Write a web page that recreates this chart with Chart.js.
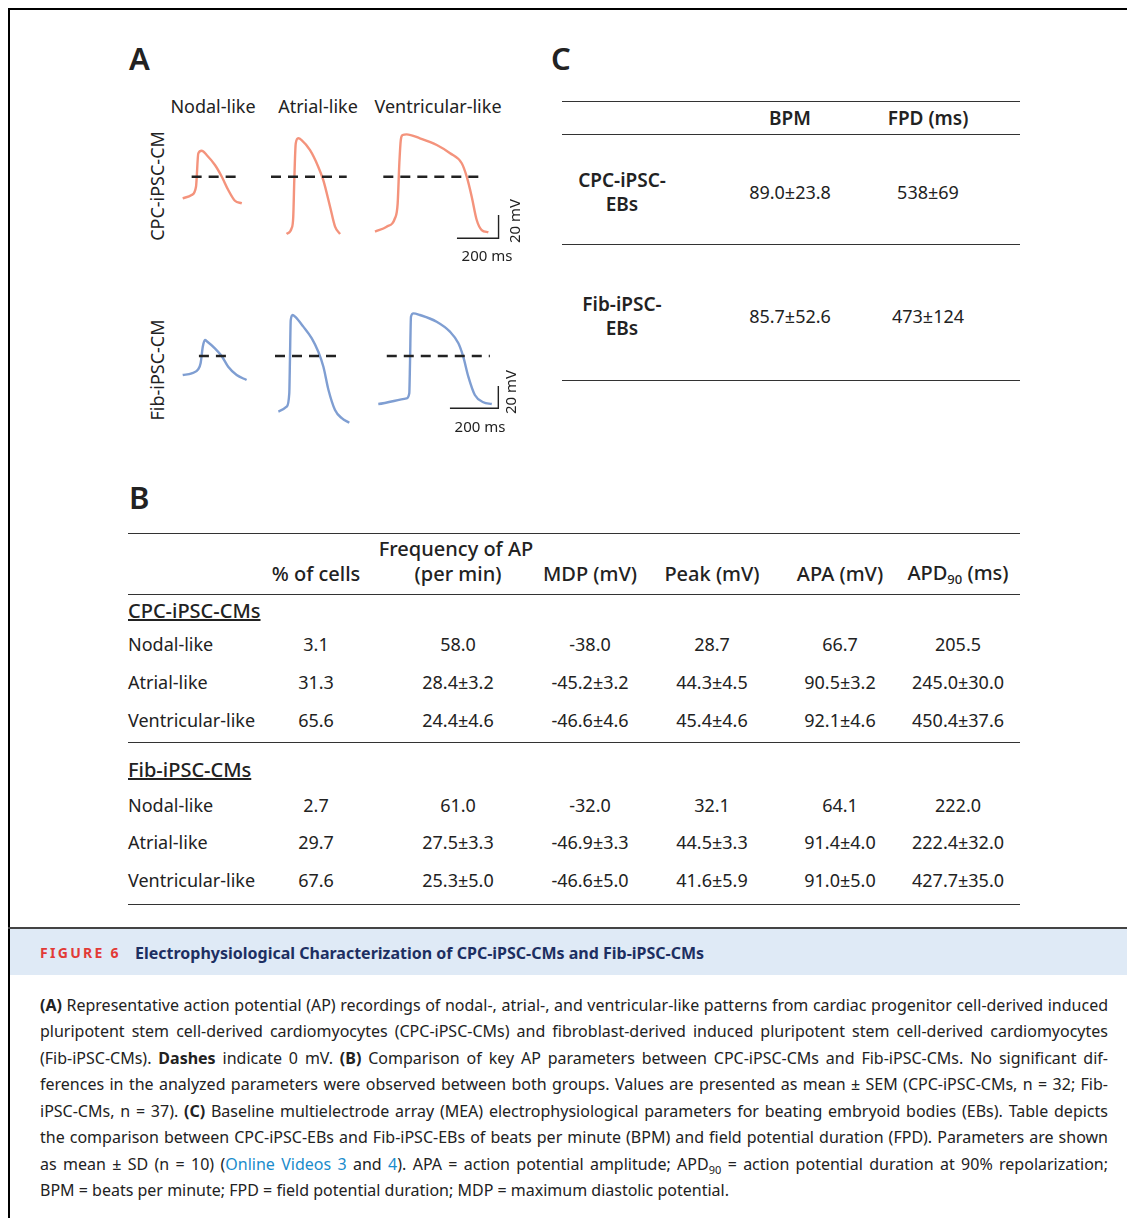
<!DOCTYPE html>
<html>
<head>
<meta charset="utf-8">
<script src="https://cdn.jsdelivr.net/npm/chart.js@4.4.1/dist/chart.umd.min.js"></script>
<style>
  body { margin: 0; width: 1127px; height: 1218px; overflow: hidden; background: #fff; position: relative; font-family: "Noto Sans", "Open Sans", sans-serif; color: #222; }
  .t { position: absolute; white-space: nowrap; }
  .rule { position: absolute; height: 0; border-top: 1.5px solid #333; }
  canvas { position: absolute; }
  .cap { position: absolute; left: 40px; width: 1068px; font-size: 16px; white-space: nowrap; text-align: justify; text-align-last: justify; color: #222; }
  .cap b { font-weight: 700; }
  .cap a { color: #1a8ccc; text-decoration: none; }
</style>
</head>
<body>
<div id="page"></div>
<script>
// ---- panel A: action potential traces (time in ms, voltage in mV) ----
var cpcNodalMs = [0, 43, 64, 75, 91, 115, 155, 188, 219, 251, 284];
var cpcNodalMv = [-18.5, -15.7, -8.6, 20, 22.3, 18.6, 10, 0, -11.4, -20.6, -22.8];
var cpcAtrialMs = [75, 99, 107, 112, 119, 131, 147, 187, 227, 251, 284, 308, 332];
var cpcAtrialMv = [-49.1, -44.2, -34.3, -2.8, 28.6, 32.9, 31.4, 22.9, 8.6, -2.8, -25.7, -42.8, -49.1];
var cpcVentMs = [0, 56, 96, 109, 117, 124, 133, 152, 216, 297, 361, 417, 441, 465, 489, 513, 545];
var cpcVentMv = [-47.1, -42.8, -35.6, -22.8, 11.5, 31.4, 35.7, 36.3, 32.9, 27.2, 20.1, 11.5, 0, -17.1, -37.1, -45.7, -47.6];

var fibNodalMs = [0, 37, 64, 74, 83, 92, 102, 133, 161, 188, 223, 264];
var fibNodalMv = [-17, -15.5, -11.9, -6.5, 8.3, 14.3, 12.8, 6.9, 0, -9.6, -17, -21.5];
var fibAtrialMs = [14, 48, 59, 62, 65, 73, 83, 117, 152, 179, 200, 221, 248, 276, 307];
var fibAtrialMv = [-49.9, -45.4, -33.4, -0.6, 32.2, 36.7, 35.2, 26.3, 15.8, 3.8, -9.6, -30.4, -48.3, -55.7, -59.7];
var fibVentMs = [0, 117, 128, 131, 135, 145, 172, 241, 296, 331, 351, 372, 399, 434, 469];
var fibVentMv = [-43, -37.9, -33.4, -6.5, 35.2, 38.2, 36.7, 30.7, 21.8, 11.4, -0.6, -18.5, -34.9, -41.4, -43];

// extent of the 0 mV dashes (ms)
var cpcZeroDash = [[43, 267], [0, 364], [40, 513]];
var fibZeroDash = [[67, 188], [0, 269], [35, 461]];

// scale bars
var scaleBarMs = 200;
var scaleBarMv = 20;

var traceTypes = ['Nodal-like', 'Atrial-like', 'Ventricular-like'];
var cellLines = ['CPC-iPSC-CM', 'Fib-iPSC-CM'];

// ---- panel B table ----
var bHeaders = ['% of cells', '(per min)', 'MDP (mV)', 'Peak (mV)', 'APA (mV)', 'APD<sub style="font-size:13px;vertical-align:-4px">90</sub> (ms)'];
var cpcRows = [
  ['Nodal-like', '3.1', '58.0', '-38.0', '28.7', '66.7', '205.5'],
  ['Atrial-like', '31.3', '28.4±3.2', '-45.2±3.2', '44.3±4.5', '90.5±3.2', '245.0±30.0'],
  ['Ventricular-like', '65.6', '24.4±4.6', '-46.6±4.6', '45.4±4.6', '92.1±4.6', '450.4±37.6']
];
var fibRows = [
  ['Nodal-like', '2.7', '61.0', '-32.0', '32.1', '64.1', '222.0'],
  ['Atrial-like', '29.7', '27.5±3.3', '-46.9±3.3', '44.5±3.3', '91.4±4.0', '222.4±32.0'],
  ['Ventricular-like', '67.6', '25.3±5.0', '-46.6±5.0', '41.6±5.9', '91.0±5.0', '427.7±35.0']
];

// ---- panel C table ----
var cHeaders = ['BPM', 'FPD (ms)'];
var cRows = [
  [['CPC-iPSC-', 'EBs'], '89.0±23.8', '538±69'],
  [['Fib-iPSC-', 'EBs'], '85.7±52.6', '473±124']
];

var page = document.getElementById('page');

function txt(html, x, y, opt) {
  opt = opt || {};
  var d = document.createElement('div');
  d.className = 't';
  d.innerHTML = html;
  d.style.left = x + 'px';
  d.style.top = y + 'px';
  d.style.fontSize = (opt.size || 18) + 'px';
  if (opt.weight) d.style.fontWeight = opt.weight;
  if (opt.color) d.style.color = opt.color;
  if (opt.ls) d.style.letterSpacing = opt.ls;
  if (opt.underline) d.style.textDecoration = 'underline';
  var tx = opt.align === 'l' ? '0' : '-50%';
  d.style.transform = 'translate(' + tx + ',-50%)' + (opt.rot ? ' rotate(' + opt.rot + 'deg)' : '');
  d.style.lineHeight = '1';
  page.appendChild(d);
  return d;
}
function rule(x1, x2, y, w, color) {
  var d = document.createElement('div');
  d.className = 'rule';
  d.style.left = x1 + 'px';
  d.style.width = (x2 - x1) + 'px';
  d.style.top = y + 'px';
  if (w) d.style.borderTopWidth = w + 'px';
  if (color) d.style.borderTopColor = color;
  page.appendChild(d);
}
function box(x, y, w, h, bg) {
  var d = document.createElement('div');
  d.style.position = 'absolute';
  d.style.left = x + 'px'; d.style.top = y + 'px';
  d.style.width = w + 'px'; d.style.height = h + 'px';
  d.style.background = bg;
  page.appendChild(d);
}

// frame
box(8, 8, 1119, 2, '#000');
box(8, 8, 2, 1210, '#000');

// ---- trace charts ----
function traceChart(ms, mv, dash, color, place, bar) {
  var c = document.createElement('canvas');
  c.width = place.w; c.height = place.h;
  c.style.left = place.left + 'px'; c.style.top = place.top + 'px';
  page.appendChild(c);
  var sets = [
    { data: [{ x: dash[0], y: 0 }, { x: dash[1], y: 0 }], borderColor: '#222', borderWidth: 2.5,
      borderDash: [10, 7], pointRadius: 0, clip: false, order: 0 },
    { data: ms.map(function (t, i) { return { x: t, y: mv[i] }; }), borderColor: color, borderWidth: 2.4,
      pointRadius: 0, cubicInterpolationMode: 'monotone', clip: false, order: 1 }
  ];
  if (bar) {
    sets.push({ data: [{ x: bar.x, y: bar.y }, { x: bar.x + scaleBarMs, y: bar.y }, { x: bar.x + scaleBarMs, y: bar.y + scaleBarMv }],
      borderColor: '#222', borderWidth: 1.4, pointRadius: 0, tension: 0, clip: false, order: 2 });
  }
  new Chart(c.getContext('2d'), {
    type: 'line',
    data: { datasets: sets },
    options: {
      responsive: false, animation: false, events: [],
      layout: { padding: 0 },
      plugins: { legend: { display: false }, tooltip: { enabled: false } },
      scales: {
        x: { type: 'linear', display: false,
             min: (place.left - place.x0) / place.kx, max: (place.left + place.w - place.x0) / place.kx },
        y: { type: 'linear', display: false,
             max: (place.y0 - place.top) / place.ky, min: (place.y0 - place.top - place.h) / place.ky }
      }
    }
  });
}

var cpcColor = '#f4937c';
var fibColor = '#7f9ed2';
traceChart(cpcNodalMs, cpcNodalMv, cpcZeroDash[0], cpcColor, { left: 172, top: 130, w: 80, h: 90, x0: 182.7, y0: 176.7, kx: 0.208, ky: 1.167 });
traceChart(cpcAtrialMs, cpcAtrialMv, cpcZeroDash[1], cpcColor, { left: 262, top: 125, w: 95, h: 125, x0: 271, y0: 176.7, kx: 0.208, ky: 1.167 });
traceChart(cpcVentMs, cpcVentMv, cpcZeroDash[2], cpcColor, { left: 366, top: 120, w: 145, h: 130, x0: 375, y0: 176.7, kx: 0.208, ky: 1.167 },
  { x: 394, y: -52.8 });
traceChart(fibNodalMs, fibNodalMv, fibZeroDash[0], fibColor, { left: 172, top: 320, w: 85, h: 75, x0: 182.7, y0: 356, kx: 0.242, ky: 1.117 });
traceChart(fibAtrialMs, fibAtrialMv, fibZeroDash[1], fibColor, { left: 266, top: 300, w: 95, h: 135, x0: 275, y0: 356, kx: 0.242, ky: 1.117 });
traceChart(fibVentMs, fibVentMv, fibZeroDash[2], fibColor, { left: 370, top: 300, w: 140, h: 120, x0: 378.3, y0: 356, kx: 0.242, ky: 1.117 },
  { x: 296, y: -46.8 });

// panel A text
txt('A', 129, 58, { size: 31, weight: 600, align: 'l' });
var colX = [213, 318, 438];
traceTypes.forEach(function (s, i) { txt(s, colX[i], 106, { size: 18 }); });
txt(cellLines[0], 157, 186, { size: 18, rot: -90 });
txt(cellLines[1], 157, 370, { size: 18, rot: -90 });
txt(scaleBarMv + ' mV', 514, 221, { size: 15, rot: -90 });
txt(scaleBarMs + ' ms', 487, 255, { size: 15 });
txt(scaleBarMv + ' mV', 510, 392, { size: 15, rot: -90 });
txt(scaleBarMs + ' ms', 480, 426, { size: 15 });

// panel C
txt('C', 551, 58, { size: 31, weight: 600, align: 'l' });
rule(562, 1020, 101);
rule(562, 1020, 134);
rule(562, 1020, 244);
rule(562, 1020, 380);
var cColX = [790, 928];
cHeaders.forEach(function (s, i) { txt(s, cColX[i], 118, { size: 19, weight: 600 }); });
var cRowY = [192, 316];
cRows.forEach(function (r, i) {
  txt(r[0][0], 622, cRowY[i] - 12, { size: 19, weight: 600 });
  txt(r[0][1], 622, cRowY[i] + 12, { size: 19, weight: 600 });
  txt(r[1], cColX[0], cRowY[i], { size: 18 });
  txt(r[2], cColX[1], cRowY[i], { size: 18 });
});

// panel B
txt('B', 129, 497, { size: 31, weight: 600, align: 'l' });
rule(128, 1020, 533);
rule(128, 1020, 594);
rule(128, 1020, 742);
rule(128, 1020, 904);
var bColX = [316, 458, 590, 712, 840, 958];
txt('Frequency of AP', 456, 549, { size: 20, weight: 500 });
bHeaders.forEach(function (s, i) { txt(s, bColX[i], 574, { size: 20, weight: 500 }); });
function bSection(title, rows, y0, rowY) {
  txt(title, 128, y0, { size: 20, weight: 500, align: 'l', underline: true });
  rows.forEach(function (r, i) {
    txt(r[0], 128, rowY[i], { size: 18, align: 'l' });
    for (var k = 1; k < r.length; k++) txt(r[k], bColX[k - 1], rowY[i], { size: 18 });
  });
}
bSection('CPC-iPSC-CMs', cpcRows, 611, [644, 682, 720]);
bSection('Fib-iPSC-CMs', fibRows, 770, [805, 842, 880]);

// caption
box(8, 927, 1119, 2, '#444');
box(10, 929, 1117, 46, '#dfeaf6');
txt('FIGURE 6', 40, 953, { size: 14, weight: 700, color: '#e23a36', ls: '2.3px', align: 'l' });
txt('Electrophysiological Characterization of CPC-iPSC-CMs and Fib-iPSC-CMs', 135, 953, { size: 16, weight: 700, color: '#1d2f62', align: 'l' });

var capLines = [
  '<b>(A)</b> Representative action potential (AP) recordings of nodal-, atrial-, and ventricular-like patterns from cardiac progenitor cell-derived induced',
  'pluripotent stem cell-derived cardiomyocytes (CPC-iPSC-CMs) and fibroblast-derived induced pluripotent stem cell-derived cardiomyocytes',
  '(Fib-iPSC-CMs). <b>Dashes</b> indicate 0 mV. <b>(B)</b> Comparison of key AP parameters between CPC-iPSC-CMs and Fib-iPSC-CMs. No significant dif-',
  'ferences in the analyzed parameters were observed between both groups. Values are presented as mean \u00b1 SEM (CPC-iPSC-CMs, n = 32; Fib-',
  'iPSC-CMs, n = 37). <b>(C)</b> Baseline multielectrode array (MEA) electrophysiological parameters for beating embryoid bodies (EBs). Table depicts',
  'the comparison between CPC-iPSC-EBs and Fib-iPSC-EBs of beats per minute (BPM) and field potential duration (FPD). Parameters are shown',
  'as mean \u00b1 SD (n = 10) (<a>Online Videos 3</a> and <a>4</a>). APA = action potential amplitude; APD<sub style="font-size:11px">90</sub> = action potential duration at 90% repolarization;',
  'BPM = beats per minute; FPD = field potential duration; MDP = maximum diastolic potential.'
];
capLines.forEach(function (s, i) {
  var d = document.createElement('div');
  d.className = 'cap';
  d.innerHTML = s;
  d.style.top = (993 + i * 26.45) + 'px';
  d.style.lineHeight = '24px';
  if (i === capLines.length - 1) { d.style.textAlign = 'left'; d.style.textAlignLast = 'left'; }
  page.appendChild(d);
});
</script>
</body>
</html>
